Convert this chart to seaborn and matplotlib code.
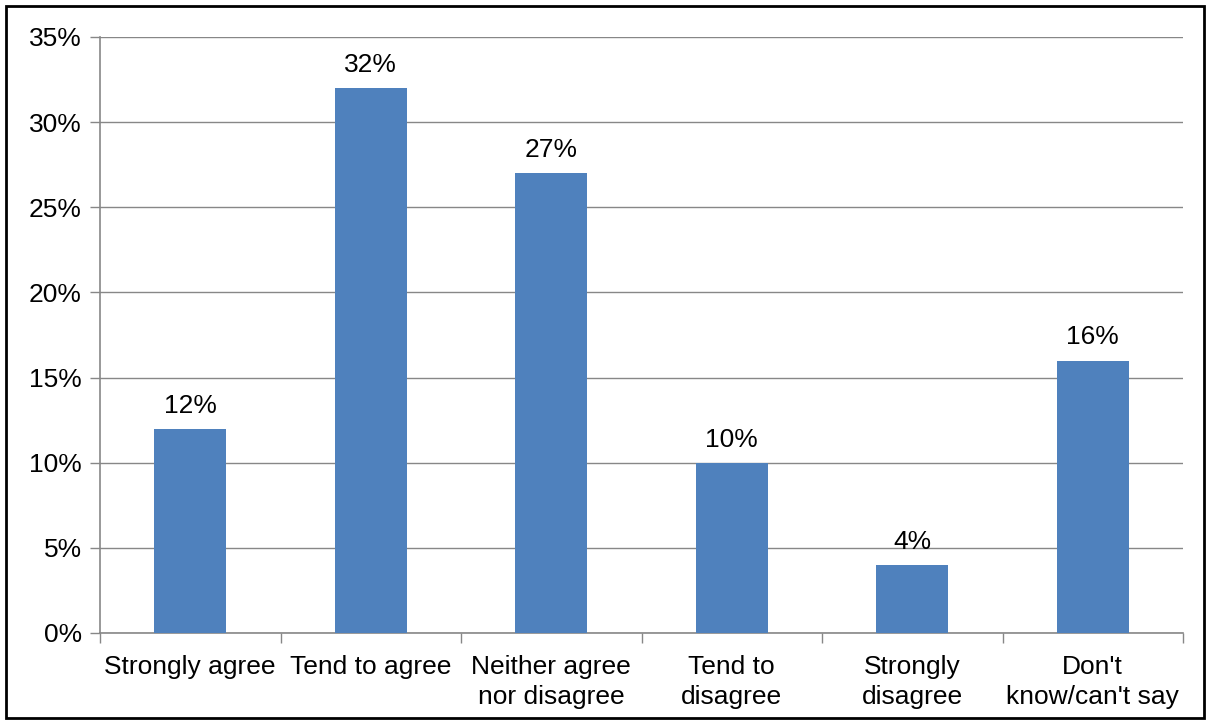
import matplotlib
matplotlib.use("Agg")
import matplotlib.pyplot as plt
from matplotlib.patches import Rectangle
import seaborn as sns
import pandas as pd

categories = ["Strongly agree", "Tend to agree", "Neither agree\nnor disagree",
              "Tend to\ndisagree", "Strongly\ndisagree", "Don't\nknow/can't say"]
values = [12, 32, 27, 10, 4, 16]
y_ticks = [0, 5, 10, 15, 20, 25, 30, 35]

df = pd.DataFrame({"Response": categories, "Percent": values})

sns.set_theme(style="white")
plt.rcParams["font.family"] = ["Liberation Sans", "DejaVu Sans"]
plt.rcParams["text.color"] = "black"
plt.rcParams["xtick.color"] = "black"
plt.rcParams["ytick.color"] = "black"

fig = plt.figure(figsize=(12.08, 7.22), dpi=100)
ax = fig.add_axes([100 / 1208, 1 - 633 / 722, 1083 / 1208, 596 / 722])

sns.barplot(data=df, x="Response", y="Percent", color="#4F81BD", saturation=1,
            width=0.4, linewidth=0, ax=ax, zorder=3)

grid_c = "#878787"
fs = 19
ax.set_ylim(0, 35)
ax.set_xlim(-0.5, 5.5)
ax.set_yticks(y_ticks)
ax.set_yticklabels([f"{t}%" for t in y_ticks], fontsize=fs)
ax.yaxis.grid(True, color=grid_c, linewidth=1, zorder=0)
ax.set_axisbelow(True)

ax.set_xticks(range(len(categories)))
ax.set_xticklabels(categories, fontsize=fs, linespacing=1.3)
ax.set_xticks([i - 0.5 for i in range(len(categories) + 1)], minor=True)
ax.tick_params(axis="x", which="major", bottom=True, length=0, pad=16,
               labelcolor="black")
ax.tick_params(axis="x", which="minor", bottom=True, length=7, color=grid_c,
               width=1, direction="out")
ax.tick_params(axis="y", left=True, length=7, color=grid_c, width=1,
               direction="out", pad=6, labelcolor="black")

for s in ["top", "right"]:
    ax.spines[s].set_visible(False)
for s in ["left", "bottom"]:
    ax.spines[s].set_color(grid_c)
    ax.spines[s].set_linewidth(1.2)

ax.set_xlabel("")
ax.set_ylabel("")

for i, v in enumerate(values):
    ax.annotate(f"{v}%", (i, v), xytext=(0, 8), textcoords="offset points",
                ha="center", va="bottom", fontsize=fs, color="black")

fig.patches.append(Rectangle((6 / 1208, 4 / 722), 1198 / 1208, 712 / 722,
                             transform=fig.transFigure, fill=False,
                             edgecolor="black", linewidth=2))

fig.savefig("out.png", dpi=100)
